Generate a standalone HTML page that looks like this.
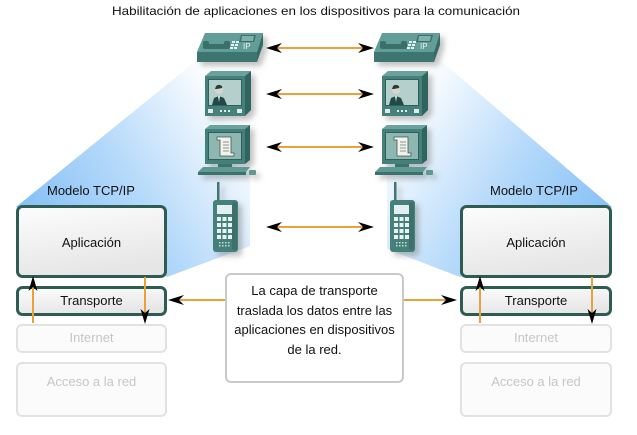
<!DOCTYPE html>
<html><head><meta charset="utf-8"><style>
html,body{margin:0;padding:0;background:#fff;width:637px;height:435px;overflow:hidden}
svg{display:block}
text{font-family:"Liberation Sans",Arial,sans-serif}
</style></head><body>
<svg width="637" height="435" viewBox="0 0 637 435" xmlns="http://www.w3.org/2000/svg">
<defs>
  <linearGradient id="gl" gradientUnits="userSpaceOnUse" x1="30" y1="220" x2="225" y2="95">
    <stop offset="0" stop-color="#86c0f6"/>
    <stop offset="0.45" stop-color="#b4d9fa"/>
    <stop offset="1" stop-color="#ffffff"/>
  </linearGradient>
  <linearGradient id="gr" gradientUnits="userSpaceOnUse" x1="605" y1="220" x2="410" y2="95">
    <stop offset="0" stop-color="#86c0f6"/>
    <stop offset="0.45" stop-color="#b4d9fa"/>
    <stop offset="1" stop-color="#ffffff"/>
  </linearGradient>
  <linearGradient id="box" x1="0" y1="0" x2="0.3" y2="1">
    <stop offset="0" stop-color="#fdfdfd"/>
    <stop offset="1" stop-color="#e6e6e6"/>
  </linearGradient>
  <filter id="sh" x="-30%" y="-30%" width="170%" height="170%">
    <feDropShadow dx="4" dy="4" stdDeviation="3" flood-color="#777" flood-opacity="0.45"/>
  </filter>

  <g id="phone">
    <polygon points="8,0 66,0 60,19 0,19" fill="#629e98"/>
    <rect x="0" y="19" width="60" height="10" fill="#3e766f"/>
    <polygon points="60,19 66,0 66,12 60,29" fill="#346a64"/>
    <rect x="7" y="11" width="25" height="5" rx="2" fill="#3a706a"/>
    <rect x="6" y="8" width="6" height="8" rx="2" fill="#3a706a"/>
    <rect x="27" y="8" width="6" height="8" rx="2" fill="#3a706a"/>
    <polygon points="44,2 59,2 57,9 42,9" fill="#3a716b"/>
    <polygon points="45,3 57,3 56,8 44,8" fill="#7fb0ab"/>
    <g fill="#e9f2f1">
      <rect x="35" y="8" width="3" height="2"/><rect x="39" y="8" width="3" height="2"/>
      <rect x="34" y="11" width="3" height="2"/><rect x="38" y="11" width="3" height="2"/>
      <rect x="33" y="14" width="3" height="2"/><rect x="37" y="14" width="3" height="2"/>
    </g>
  </g>

  <g id="tv">
    <polygon points="0,5 6,0 46,0 40,5" fill="#6aa39d"/>
    <polygon points="40,5 46,0 46,39 40,45" fill="#2f655f"/>
    <rect x="0" y="5" width="40" height="40" fill="#44807a"/>
    <rect x="3" y="8" width="34" height="27" fill="#2f605b"/>
    <rect x="4" y="9" width="32" height="25" fill="#b5d0cc"/>
    <path d="M7,34 L9,27 L14,25 L19,27 L22,34 Z" fill="#244a46"/>
    <polygon points="13,25 15,25 14,31" fill="#e8eeee"/>
    <circle cx="14" cy="19" r="4" fill="#d9d4cc"/>
    <path d="M10,18 Q11,13 15,14 Q18,15 17,17 L12,18 Z" fill="#2a3a38"/>
    <rect x="3" y="38" width="5" height="4" fill="#e0ecea"/>
    <rect x="32" y="38" width="5" height="4" fill="#e0ecea"/>
    <g fill="#e0ecea"><rect x="15" y="39" width="2" height="2"/><rect x="19" y="39" width="2" height="2"/><rect x="23" y="39" width="2" height="2"/></g>
  </g>

  <g id="pc">
    <polygon points="7,4 12,0 52,0 47,4" fill="#6aa39d"/>
    <polygon points="47,4 52,0 52,35 47,39" fill="#2f655f"/>
    <rect x="7" y="4" width="40" height="35" fill="#44807a"/>
    <rect x="10" y="7" width="34" height="28" fill="#2f605b"/>
    <rect x="11" y="8" width="32" height="26" fill="#8fb7b2"/>
    <path d="M19,12 L33,12 L33,28 L36,28 L36,31 L22,31 L22,15 L19,15 Z" fill="#f4f2ea" stroke="#3c5a57" stroke-width="0.8"/>
    <g stroke="#6d7f7c" stroke-width="0.8"><line x1="25" y1="17" x2="31" y2="17"/><line x1="25" y1="20" x2="31" y2="20"/><line x1="25" y1="23" x2="31" y2="23"/><line x1="25" y1="26" x2="31" y2="26"/></g>
    <rect x="20" y="39" width="14" height="3" fill="#3b726c"/>
    <polygon points="5,42 52,42 48,47 0,47" fill="#5e9993"/>
    <rect x="0" y="47" width="48" height="3" fill="#3b726c"/>
    <rect x="51" y="45" width="7" height="5" rx="1" fill="#5e9993"/>
  </g>

  <g id="cell">
    <rect x="4" y="0" width="2.5" height="20" fill="#3f7770"/>
    <rect x="0" y="18" width="25" height="52" rx="3" fill="#44807a"/>
    <rect x="19" y="20" width="5" height="48" rx="2" fill="#3a716b"/>
    <rect x="4" y="23" width="15" height="9" fill="#e4f0ef"/>
    <g fill="#e8f2f1">
      <rect x="4" y="35" width="4" height="4"/><rect x="9.5" y="35" width="4" height="4"/><rect x="15" y="35" width="4" height="4"/>
      <rect x="4" y="41" width="4" height="4"/><rect x="9.5" y="41" width="4" height="4"/><rect x="15" y="41" width="4" height="4"/>
      <rect x="4" y="47" width="4" height="4"/><rect x="9.5" y="47" width="4" height="4"/><rect x="15" y="47" width="4" height="4"/>
      <rect x="4" y="53" width="4" height="4"/><rect x="9.5" y="53" width="4" height="4"/><rect x="15" y="53" width="4" height="4"/>
    </g>
    <g fill="#c9dedb">
      <rect x="6" y="60" width="1.5" height="1.5"/><rect x="9" y="60" width="1.5" height="1.5"/><rect x="12" y="60" width="1.5" height="1.5"/><rect x="15" y="60" width="1.5" height="1.5"/>
      <rect x="6" y="63" width="1.5" height="1.5"/><rect x="9" y="63" width="1.5" height="1.5"/><rect x="12" y="63" width="1.5" height="1.5"/><rect x="15" y="63" width="1.5" height="1.5"/>
    </g>
  </g>
</defs>

<!-- wedges -->
<polygon points="197,60 250,60 250,246 167,277 16,207" fill="url(#gl)"/>
<polygon points="440,60 387,60 387,249 460,277 612,207" fill="url(#gr)"/>

<!-- title -->
<text x="316" y="15" font-size="12" text-anchor="middle" fill="#111" textLength="408" lengthAdjust="spacingAndGlyphs">Habilitación de aplicaciones en los dispositivos para la comunicación</text>

<!-- devices -->
<g filter="url(#sh)">
  <use href="#phone" transform="translate(197,33)"/>
  <use href="#tv" transform="translate(205,71)"/>
  <use href="#pc" transform="translate(198,125)"/>
  <use href="#cell" transform="translate(213,182)"/>
  <use href="#phone" transform="translate(374,33)"/>
  <use href="#tv" transform="translate(382,71)"/>
  <use href="#pc" transform="translate(375,125)"/>
  <use href="#cell" transform="translate(390,182)"/>
</g>
<text x="243" y="49" font-size="8" fill="#eef5f4">IP</text>
<text x="420" y="49" font-size="8" fill="#eef5f4">IP</text>

<!-- horizontal device arrows -->
<g stroke="#e9a23b" stroke-width="2">
  <line x1="276" y1="48" x2="364" y2="48"/>
  <line x1="276" y1="94" x2="364" y2="94"/>
  <line x1="276" y1="147" x2="364" y2="147"/>
  <line x1="276" y1="227" x2="364" y2="227"/>
  <line x1="178" y1="300" x2="226" y2="300"/>
  <line x1="404" y1="300" x2="447" y2="300"/>
</g>
<g fill="#000">
  <path d="M266,48 L282,43 L277,48 L282,53 Z"/>
  <path d="M374,48 L358,43 L363,48 L358,53 Z"/>
  <path d="M266,94 L282,89 L277,94 L282,99 Z"/>
  <path d="M374,94 L358,89 L363,94 L358,99 Z"/>
  <path d="M266,147 L282,142 L277,147 L282,152 Z"/>
  <path d="M374,147 L358,142 L363,147 L358,152 Z"/>
  <path d="M266,227 L282,222 L277,227 L282,232 Z"/>
  <path d="M374,227 L358,222 L363,227 L358,232 Z"/>
  <path d="M168,300 L184,295 L179,300 L184,305 Z"/>
  <path d="M457,300 L441,295 L446,300 L441,305 Z"/>
</g>

<!-- Left model -->
<text x="47" y="195" font-size="13" fill="#111">Modelo TCP/IP</text>
<rect x="17.5" y="206.5" width="148" height="70" rx="5" fill="url(#box)" stroke="#2e5c53" stroke-width="3"/>
<text x="91.5" y="247" font-size="13" text-anchor="middle" fill="#111">Aplicación</text>
<rect x="17.5" y="287.5" width="148" height="27" rx="5" fill="url(#box)" stroke="#2e5c53" stroke-width="3"/>
<text x="91.5" y="305" font-size="13" text-anchor="middle" fill="#111">Transporte</text>
<rect x="17" y="325" width="149" height="27" rx="5" fill="#fbfbfb" stroke="#e2e2e2" stroke-width="2"/>
<text x="91.5" y="342" font-size="13" text-anchor="middle" fill="#c6c6c6">Internet</text>
<rect x="17" y="363" width="149" height="53" rx="5" fill="#fbfbfb" stroke="#e2e2e2" stroke-width="2"/>
<text x="91.5" y="386" font-size="13" text-anchor="middle" fill="#c6c6c6">Acceso a la red</text>

<!-- Right model -->
<text x="490" y="195" font-size="13" fill="#111">Modelo TCP/IP</text>
<rect x="461.5" y="206.5" width="149" height="70" rx="5" fill="url(#box)" stroke="#2e5c53" stroke-width="3"/>
<text x="536" y="247" font-size="13" text-anchor="middle" fill="#111">Aplicación</text>
<rect x="461.5" y="287.5" width="149" height="27" rx="5" fill="url(#box)" stroke="#2e5c53" stroke-width="3"/>
<text x="536" y="305" font-size="13" text-anchor="middle" fill="#111">Transporte</text>
<rect x="461" y="325" width="150" height="27" rx="5" fill="#fbfbfb" stroke="#e2e2e2" stroke-width="2"/>
<text x="536" y="342" font-size="13" text-anchor="middle" fill="#c6c6c6">Internet</text>
<rect x="461" y="363" width="150" height="53" rx="5" fill="#fbfbfb" stroke="#e2e2e2" stroke-width="2"/>
<text x="536" y="386" font-size="13" text-anchor="middle" fill="#c6c6c6">Acceso a la red</text>

<!-- vertical arrows -->
<g stroke="#e9a23b" stroke-width="2">
  <line x1="33" y1="323" x2="33" y2="286"/>
  <line x1="145" y1="277" x2="145" y2="313"/>
  <line x1="480" y1="323" x2="480" y2="286"/>
  <line x1="592" y1="277" x2="592" y2="313"/>
</g>
<g fill="#000">
  <path d="M33,276 L37.5,291 L33,287 L28.5,291 Z"/>
  <path d="M145,324 L149.5,309 L145,313 L140.5,309 Z"/>
  <path d="M480,276 L484.5,291 L480,287 L475.5,291 Z"/>
  <path d="M592,324 L596.5,309 L592,313 L587.5,309 Z"/>
</g>

<!-- center box -->
<rect x="226" y="274" width="177" height="108" rx="5" fill="#fff" stroke="#c9c9c9" stroke-width="2"/>
<g font-size="13" text-anchor="middle" fill="#111">
  <text x="314.5" y="295">La capa de transporte</text>
  <text x="314.5" y="315">traslada los datos entre las</text>
  <text x="314.5" y="334">aplicaciones en dispositivos</text>
  <text x="314.5" y="354">de la red.</text>
</g>
</svg>
</body></html>
